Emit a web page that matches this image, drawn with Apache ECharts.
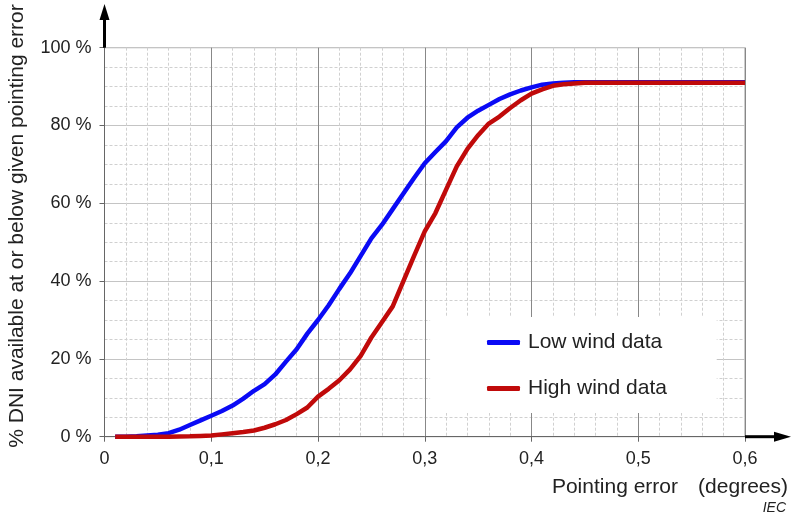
<!DOCTYPE html>
<html>
<head>
<meta charset="utf-8">
<script src="https://cdn.jsdelivr.net/npm/echarts@6/dist/echarts.min.js"></script>
<style>
  html, body { margin: 0; padding: 0; background: #fff; }
  #chart { width: 793px; height: 517px; }
</style>
</head>
<body>
<div id="chart"></div>
<script>
// pointing error (degrees)
const pointingError = [
  0.01, 0.02, 0.03, 0.04, 0.05, 0.06, 0.07, 0.08, 0.09, 0.10,
  0.11, 0.12, 0.13, 0.14, 0.15, 0.16, 0.17, 0.18, 0.19, 0.20,
  0.21, 0.22, 0.23, 0.24, 0.25, 0.26, 0.27, 0.28, 0.29, 0.30,
  0.31, 0.32, 0.33, 0.34, 0.35, 0.36, 0.37, 0.38, 0.39, 0.40,
  0.41, 0.42, 0.43, 0.44, 0.45, 0.50, 0.55, 0.60
]
// % DNI available at or below given pointing error
const lowWind = [
  0, 0, 0.1, 0.3, 0.5, 0.9, 1.8, 3.0, 4.2, 5.4,
  6.6, 8.0, 9.8, 11.8, 13.5, 16.0, 19.3, 22.5, 26.5, 30.0,
  33.8, 38.0, 42.0, 46.5, 51.0, 54.5, 58.5, 62.5, 66.5, 70.3,
  73.2, 76.0, 79.5, 82.0, 83.8, 85.3, 86.8, 88.0, 89.0, 89.8,
  90.5, 90.8, 91.0, 91.1, 91.1, 91.1, 91.1, 91.1
]
const highWind = [
  0, 0, 0, 0, 0, 0, 0.05, 0.1, 0.2, 0.3,
  0.6, 0.9, 1.2, 1.6, 2.3, 3.2, 4.3, 5.8, 7.5, 10.3,
  12.3, 14.5, 17.3, 20.8, 25.5, 29.5, 33.5, 40.0, 46.5, 52.8,
  57.5, 63.5, 69.5, 74.0, 77.5, 80.5, 82.3, 84.5, 86.5, 88.2,
  89.3, 90.2, 90.6, 90.8, 91.0, 91.0, 91.0, 91.0
]
const seriesNames = ['Low wind data', 'High wind data']
const xTicks = [0, 0.1, 0.2, 0.3, 0.4, 0.5, 0.6]
const yTicks = [0, 20, 40, 60, 80, 100]

const font = "'Liberation Sans', Arial, sans-serif"
const textColor = '#222'

const chart = echarts.init(document.getElementById('chart'))

function pairs(values) {
  return pointingError.map((x, i) => [x, values[i]])
}

chart.setOption({
  animation: false,
  grid: {
    left: 104.5,
    right: 48,
    top: 47.7,
    bottom: 80.3,
    show: true,
    borderColor: '#999',
    borderWidth: 1
  },
  legend: {
    orient: 'vertical',
    left: 487,
    top: 332,
    padding: 0,
    itemGap: 25,
    itemWidth: 33,
    itemHeight: 5,
    icon: 'roundRect',
    textStyle: { fontFamily: font, fontSize: 21, color: textColor, lineHeight: 21, padding: [0, 0, 0, 3] },
    data: seriesNames
  },
  xAxis: {
    type: 'value',
    min: xTicks[0],
    max: xTicks[xTicks.length - 1],
    interval: 0.1,
    axisLine: { lineStyle: { color: '#666', width: 1 } },
    axisTick: { show: true, length: 5, lineStyle: { color: '#666' } },
    axisLabel: {
      margin: 13,
      fontFamily: font,
      fontSize: 18,
      color: textColor,
      formatter: v => String(Math.round(v * 10) / 10).replace('.', ',')
    },
    splitLine: { show: true, lineStyle: { color: '#888', width: 1 } },
    minorTick: { show: false, splitNumber: 5 },
    minorSplitLine: { show: true, lineStyle: { color: '#d0d0d0', type: [3, 2], width: 1 } }
  },
  yAxis: {
    type: 'value',
    min: yTicks[0],
    max: yTicks[yTicks.length - 1],
    interval: 20,
    axisLine: { show: true, lineStyle: { color: '#666', width: 1 } },
    axisTick: { show: true, length: 5, lineStyle: { color: '#666' } },
    axisLabel: {
      margin: 13,
      fontFamily: font,
      fontSize: 18,
      color: textColor,
      formatter: v => v + ' %'
    },
    splitLine: { show: true, lineStyle: { color: '#c4c4c4', width: 1 } },
    minorTick: { show: false, splitNumber: 4 },
    minorSplitLine: { show: true, lineStyle: { color: '#d0d0d0', type: [3, 2], width: 1 } }
  },
  series: [
    {
      name: seriesNames[0],
      type: 'line',
      data: pairs(lowWind),
      showSymbol: false,
      symbol: 'none',
      itemStyle: { color: '#0a0af5' },
      lineStyle: { color: '#0a0af5', width: 4.5 },
      z: 3
    },
    {
      name: seriesNames[1],
      type: 'line',
      data: pairs(highWind),
      showSymbol: false,
      symbol: 'none',
      itemStyle: { color: '#c00a0a' },
      lineStyle: { color: '#c00a0a', width: 4.5 },
      z: 4
    }
  ]
})

// decorations: arrows, legend box, axis names
const origin = chart.convertToPixel({ gridIndex: 0 }, [0, 0])
const corner = chart.convertToPixel({ gridIndex: 0 }, [0.6, 100])
const boxA = chart.convertToPixel({ gridIndex: 0 }, [0.305, 30.8])
const boxB = chart.convertToPixel({ gridIndex: 0 }, [0.5735, 6.1])

chart.setOption({
  graphic: [
    {
      type: 'rect',
      z: 1,
      shape: { x: boxA[0], y: boxA[1], width: boxB[0] - boxA[0], height: boxB[1] - boxA[1] },
      style: { fill: '#fff' }
    },
    {
      type: 'line',
      z: 10,
      shape: { x1: origin[0], y1: corner[1], x2: origin[0], y2: 18 },
      style: { stroke: '#000', lineWidth: 3 }
    },
    {
      type: 'polygon',
      z: 10,
      shape: { points: [[origin[0] - 5, 20], [origin[0] + 5, 20], [origin[0], 4]] },
      style: { fill: '#000' }
    },
    {
      type: 'line',
      z: 10,
      shape: { x1: corner[0], y1: origin[1], x2: 776, y2: origin[1] },
      style: { stroke: '#000', lineWidth: 3 }
    },
    {
      type: 'polygon',
      z: 10,
      shape: { points: [[774, origin[1] - 5], [774, origin[1] + 5], [791, origin[1]]] },
      style: { fill: '#000' }
    },
    {
      type: 'text',
      x: 17,
      y: 226,
      rotation: Math.PI / 2,
      style: {
        text: '% DNI available at or below given pointing error',
        fontFamily: font,
        fontSize: 21,
        fill: textColor,
        textAlign: 'center',
        textVerticalAlign: 'middle'
      }
    },
    {
      type: 'text',
      x: 678,
      y: 487,
      style: {
        text: 'Pointing error',
        fontFamily: font,
        fontSize: 21,
        fill: textColor,
        textAlign: 'right',
        textVerticalAlign: 'middle'
      }
    },
    {
      type: 'text',
      x: 788,
      y: 487,
      style: {
        text: '(degrees)',
        fontFamily: font,
        fontSize: 21,
        fill: textColor,
        textAlign: 'right',
        textVerticalAlign: 'middle'
      }
    },
    {
      type: 'text',
      x: 786,
      y: 508,
      style: {
        text: 'IEC',
        fontFamily: font,
        fontSize: 14,
        fontStyle: 'italic',
        fill: textColor,
        textAlign: 'right',
        textVerticalAlign: 'middle'
      }
    }
  ]
})
</script>
</body>
</html>
